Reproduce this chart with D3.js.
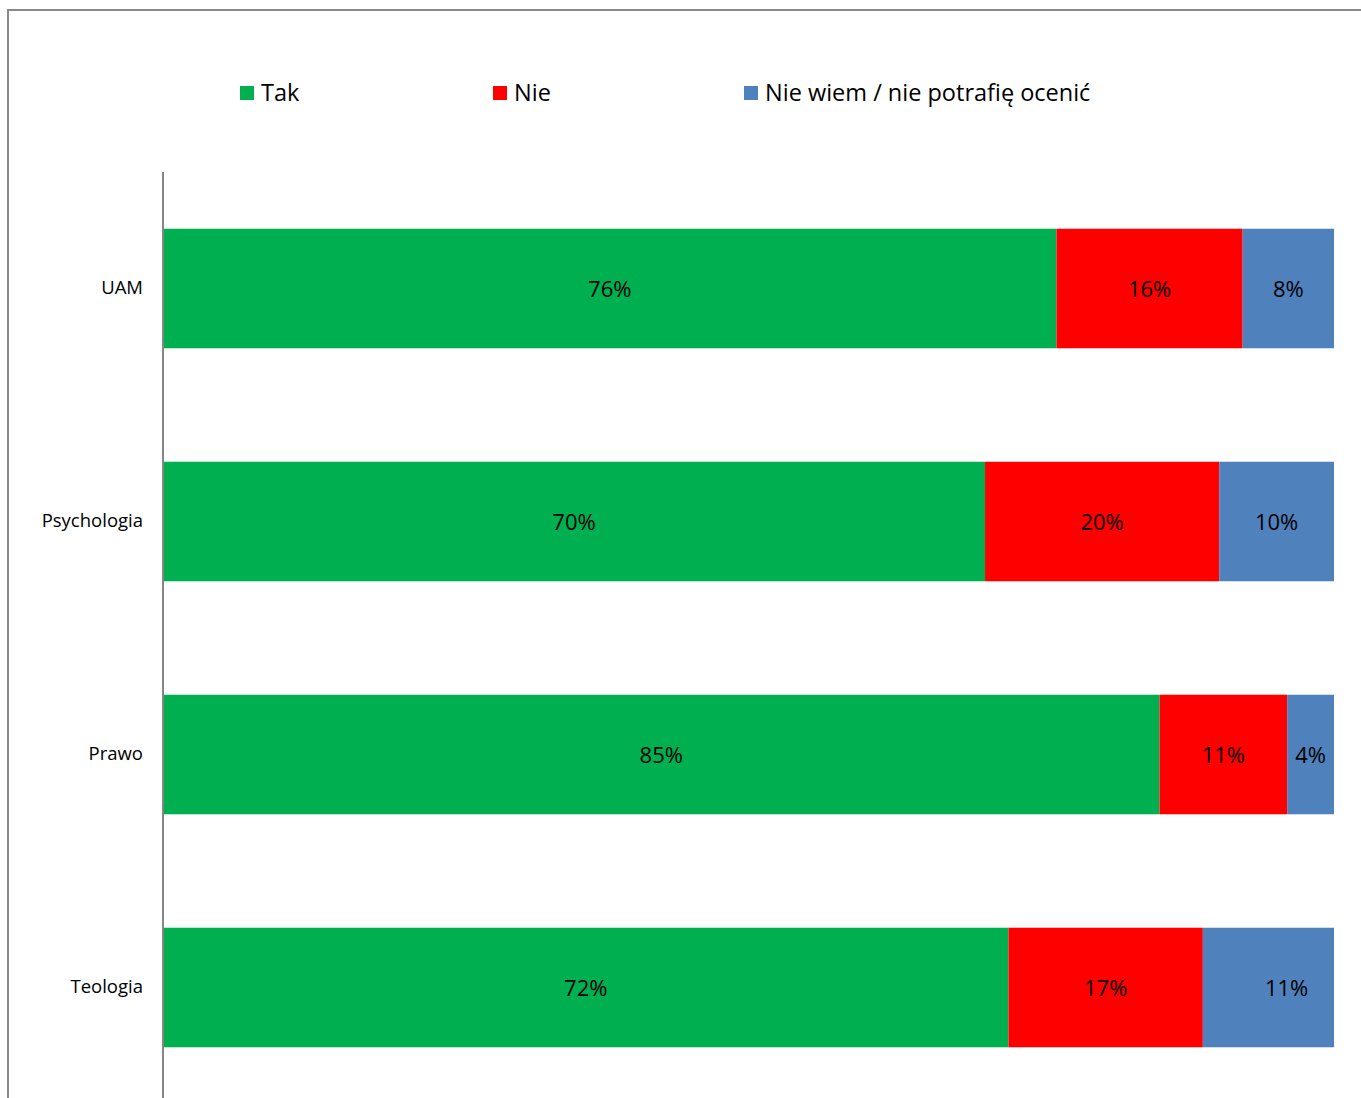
<!DOCTYPE html>
<html>
<head>
<meta charset="utf-8">
<script src="https://cdn.jsdelivr.net/npm/d3@7"></script>
<style>
  body { margin: 0; background: #fff; }
  text { font-family: "Open Sans", "Noto Sans", sans-serif; fill: #000; }
</style>
</head>
<body>
<div id="chart"></div>
<script>
// dane (procenty, dlugosc segmentow)
var categories = ["UAM", "Psychologia", "Prawo", "Teologia"];
var seriesNames = ["Tak", "Nie", "Nie wiem / nie potrafię ocenić"];
var tak = [76.3, 70.2, 85.1, 72.2];
var nie = [15.9, 20.0, 10.9, 16.6];
// ostatni segment Teologii wychodzi poza os (obciety na 100%)
var nieWiem = [7.8, 9.8, 4.0, 14.3];
// etykiety danych tak jak na wykresie
var labelsTak = ["76%", "70%", "85%", "72%"];
var labelsNie = ["16%", "20%", "11%", "17%"];
var labelsNieWiem = ["8%", "10%", "4%", "11%"];
var colors = ["#00af50", "#ff0000", "#4f81bd"];

var width = 1361, height = 1098;
var x0 = 163, x1 = 1334, yTop = 172, yBottom = 1104;

var rows = categories.map(function(c, i) {
  return { cat: c, idx: i, Tak: tak[i], Nie: nie[i], NieWiem: nieWiem[i] };
});
var keys = ["Tak", "Nie", "NieWiem"];
var labelSets = [labelsTak, labelsNie, labelsNieWiem];
var stacked = d3.stack().keys(keys)(rows);

var svg = d3.select("#chart").append("svg")
  .attr("width", width).attr("height", height);

// ramka wykresu
svg.append("rect")
  .attr("x", 8).attr("y", 10)
  .attr("width", width + 10).attr("height", height + 10)
  .attr("fill", "none").attr("stroke", "#898989").attr("stroke-width", 2);

var x = d3.scaleLinear().domain([0, 100]).range([x0, x1]);
var y = d3.scaleBand().domain(categories).range([yTop, yBottom]).paddingInner(0.487).paddingOuter(0.2435);

svg.append("clipPath").attr("id", "plot")
  .append("rect").attr("x", x0).attr("y", 0).attr("width", x1 - x0).attr("height", height);

var layer = svg.selectAll("g.layer").data(stacked).enter().append("g")
  .attr("class", "layer")
  .attr("fill", function(d, i) { return colors[i]; });

layer.append("g").attr("clip-path", "url(#plot)")
  .selectAll("rect").data(function(d) { return d; }).enter().append("rect")
  .attr("x", function(d) { return x(d[0]); })
  .attr("y", function(d) { return y(d.data.cat); })
  .attr("width", function(d) { return x(d[1]) - x(d[0]); })
  .attr("height", y.bandwidth());

layer.each(function(s, si) {
  d3.select(this).selectAll("text").data(s).enter().append("text")
    .attr("x", function(d) { return (x(d[0]) + x(d[1])) / 2; })
    .attr("y", function(d) { return y(d.data.cat) + y.bandwidth() / 2; })
    .attr("dy", "0.4em")
    .attr("text-anchor", "middle")
    .style("font-size", "22px")
    .text(function(d) { return labelSets[si][d.data.idx]; });
});

// os kategorii
var yAxis = d3.axisLeft(y).tickSize(0).tickPadding(20);
var ag = svg.append("g").attr("transform", "translate(" + x0 + ",0)").call(yAxis);
ag.select(".domain").attr("stroke", "#868686").attr("stroke-width", 2)
  .attr("d", "M0," + yTop + "V" + height);
ag.selectAll(".tick text").style("font-size", "18.5px")
  .style("font-family", "'Open Sans', 'Noto Sans', sans-serif").attr("fill", "#000");

// legenda
var legendX = [240, 493, 744];
var lg = svg.selectAll("g.legend").data(seriesNames).enter().append("g")
  .attr("class", "legend")
  .attr("transform", function(d, i) { return "translate(" + legendX[i] + ",86)"; });
lg.append("rect").attr("width", 14).attr("height", 14)
  .attr("fill", function(d, i) { return colors[i]; });
lg.append("text").attr("x", 21).attr("y", 7).attr("dy", "0.36em")
  .style("font-size", "23.5px")
  .text(function(d) { return d; });
</script>
</body>
</html>
